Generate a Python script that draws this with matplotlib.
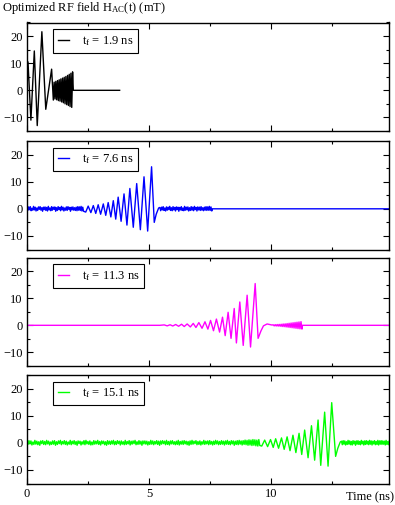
import numpy as np
import matplotlib
matplotlib.use("Agg")
import matplotlib.pyplot as plt
from matplotlib.ticker import MultipleLocator

plt.rcParams['font.family'] = ['Liberation Serif', 'DejaVu Serif']
plt.rcParams['mathtext.fontset'] = 'custom'
plt.rcParams['mathtext.rm'] = 'Liberation Serif'
plt.rcParams['mathtext.it'] = 'Liberation Serif'

# ---------------- data ----------------
labels = [r't$_{\rm f}$ = 1.9 ns', r't$_{\rm f}$ = 7.6 ns',
          r't$_{\rm f}$ = 11.3 ns', r't$_{\rm f}$ = 15.1 ns']
colors = ['black', '#0000ff', '#ff00ff', '#00ff00']
x_ticks = [0, 5, 10]
y_ticks = [-10, 0, 10, 20]

# panel 1 (t_f = 1.9 ns): large initial swings
k_t = [0.0, 0.04, 0.16, 0.30, 0.42, 0.61, 0.77, 1.01]
k_v = [0.0, 10.5, -11.0, 14.5, -13.0, 21.6, -7.0, 7.8]
# fast oscillation 1.08 .. 1.87 ns (extrema)
k_fast = [-3.6, 3.0, -3.2, 3.3, -3.5, 3.6, -3.8, 3.9, -4.0, 4.2, -4.3, 4.5,
          -4.6, 4.8, -5.0, 5.1, -5.3, 5.5, -5.6, 5.9, -6.0, 6.3, -6.3, 6.8]
k_tail_t = [1.90, 3.80]
k_tail_v = [0.0, 0.0]

# panel 2 (t_f = 7.6 ns)
b_noise1 = [4, -6, 7, -3, 8, -7, 2, -5, 9, -4, 6, -8, 3, -6, 7, -2, 8, -5, 4, -9,
            6, -3, 7, -6, 5, -8, 9, -4, 3, -7, 8, -5, 6, -2, 7, -9, 4, -6, 8, -3,
            5, -7, 9, -4, 6, -8, 3, -5, 7, -6, 8, -2, 5, -9, 6, -4, 7, -5, 4, -6,
            6, -7, 8, -5, 7, -6, 9, -8, 6, -9]
b_t = [2.41, 2.51, 2.62, 2.72, 2.82, 2.92, 3.02, 3.13, 3.23, 3.33, 3.44, 3.54,
       3.64, 3.74, 3.86, 3.98, 4.10, 4.22, 4.36, 4.50, 4.65, 4.80, 4.95, 5.11,
       5.22, 5.30, 5.40]
b_v = [-1.2, 1.0, -1.4, 1.2, -1.7, 1.5, -2.0, 1.8, -2.4, 2.3, -3.0, 3.0,
       -3.8, 4.3, -4.6, 5.5, -6.0, 7.5, -6.8, 9.3, -7.7, 11.8, -8.2, 15.5,
       -5.0, -2.0, 0.3]
b_noise2 = [5, -7, 6, -4, 8, -6, 3, -8, 7, -5, 6, -3, 9, -6, 4, -7, 8, -4, 5, -8,
            7, -3, 6, -9, 5, -4, 8, -6, 3, -7, 9, -5, 6, -4, 7, -8, 4, -6, 8, -5,
            6, -7, 9, -3, 5, -8, 7, -4, 6, -6, 8, -5, 4, -7, 6, -5, 8, -6, 7, -5,
            9, -6, 7, -8]
b_tail_t = [7.60, 14.9]
b_tail_v = [0.0, 0.0]

# panel 3 (t_f = 11.3 ns)
m_head_t = [0.0, 5.45]
m_head_v = [0.0, 0.0]
m_t = [5.63, 5.75, 5.87, 5.98, 6.10, 6.22, 6.34, 6.45, 6.57, 6.70, 6.82, 6.93,
       7.05, 7.18, 7.30, 7.42, 7.53, 7.65, 7.77, 7.90, 8.02, 8.13, 8.25, 8.37,
       8.50, 8.59, 8.73, 8.87, 9.03, 9.17, 9.36, 9.48, 9.60, 9.70, 9.85, 9.95,
       10.05]
m_v = [0.15, -0.2, 0.2, -0.25, 0.3, -0.35, 0.4, -0.45, 0.5, -0.6, 0.7, -0.8,
       1.0, -1.1, 1.3, -1.4, 1.8, -2.0, 2.3, -2.5, 3.0, -3.8, 4.8, -4.8,
       6.2, -6.5, 8.6, -7.4, 11.1, -8.0, 15.4, -4.8, -2.0, -0.2, 0.5, 0.3,
       0.1]
# fast ripple 10.1 .. 11.3 ns (extrema)
m_fast = [0.2, -0.2, 0.25, -0.25, 0.3, -0.3, 0.35, -0.35, 0.4, -0.45, 0.5, -0.5,
          0.55, -0.6, 0.65, -0.7, 0.75, -0.8, 0.85, -0.9, 0.95, -1.0, 1.05, -1.1,
          1.15, -1.2, 1.25, -1.3, 1.35, -1.4]
m_tail_t = [11.30, 14.9]
m_tail_v = [0.0, 0.0]

# panel 4 (t_f = 15.1 ns)
g_noise1 = [5, -6, 8, -4, 7, -8, 3, -6, 9, -5, 6, -7, 4, -9, 7, -3, 8, -6, 5, -7,
            9, -4, 6, -8, 3, -6, 7, -5, 8, -9, 4, -6, 7, -3, 9, -7, 5, -4, 8, -6,
            6, -8, 3, -5, 9, -7, 6, -4, 8, -6, 5, -9, 7, -3, 6, -8, 4, -5, 8, -7,
            9, -4, 5, -6, 7, -8, 3, -7, 8, -5, 6, -4, 9, -6, 5, -8, 7, -3, 6, -7,
            4, -9, 8, -5, 6, -6, 7, -4, 9, -7, 5, -6, 8, -3, 6, -8, 7, -5, 4, -7,
            9, -6, 5, -4, 8, -8, 6, -5, 7, -3, 9, -7, 4, -6, 8, -5, 6, -9, 7, -4,
            7, -5, 6, -8, 4, -6, 9, -5, 7, -7, 5, -4, 8, -6, 6, -9, 7, -5, 8, -3,
            6, -7, 9, -6, 5, -8, 7, -4, 8, -5, 4, -7, 6, -6, 9, -8, 5, -5, 7, -6,
            8, -4, 6, -7, 5, -9, 7, -6, 9, -5, 6, -3, 8, -7, 5, -6, 7, -8, 4, -5,
            9, -6, 6, -4, 7, -7, 8, -5, 5, -8, 6, -6, 9, -4, 7, -7, 5, -6, 8, -5,
            6, -8, 7, -5, 9, -6, 5, -7, 8, -4, 7, -9, 6, -6, 8, -7, 9, -5, 7, -8,
            8, -6, 10, -7, 9, -9, 11, -8, 10, -10, 12, -9, 11, -11, 10, -12, 12, -10]
g_t = [9.63, 9.75, 9.87, 9.99, 10.10, 10.20, 10.32, 10.44, 10.55, 10.67, 10.79,
       10.91, 11.03, 11.16, 11.27, 11.39, 11.53, 11.67, 11.80, 11.94, 12.05, 12.21,
       12.35, 12.50, 12.66, 12.75, 12.85]
g_v = [-1.2, 1.0, -1.4, 1.2, -1.7, 1.5, -2.0, 1.8, -2.4, 2.2, -2.9,
       2.8, -3.6, 3.5, -4.3, 4.7, -5.5, 6.3, -6.4, 8.4, -8.3, 11.3,
       -8.6, 14.8, -5.0, -2.0, 0.3]
g_noise2 = [6, -7, 8, -5, 7, -8, 4, -6, 9, -5, 7, -7, 5, -8, 8, -4, 6, -9, 7, -5,
            8, -6, 5, -7, 9, -4, 6, -8, 7, -6, 8, -5, 6, -7, 9, -5, 7, -8, 6, -4,
            8, -7, 5, -6, 9, -8, 7, -5, 8, -6, 7, -5, 6, -8, 9, -6, 5, -7, 8, -6]

# ---------------- build series ----------------
def noise(vals, t0, t1):
    return np.linspace(t0, t1, len(vals)), np.array(vals) / 10.0

series = []
t = np.concatenate([k_t, np.linspace(1.08, 1.87, len(k_fast)), k_tail_t])
v = np.concatenate([k_v, k_fast, k_tail_v])
series.append((t, v))

n1t, n1v = noise(b_noise1, 0.0, 2.32)
n2t, n2v = noise(b_noise2, 5.45, 7.58)
t = np.concatenate([n1t, b_t, n2t, b_tail_t])
v = np.concatenate([n1v, b_v, n2v, b_tail_v])
series.append((t, v))

t = np.concatenate([m_head_t, m_t, np.linspace(10.1, 11.28, len(m_fast)), m_tail_t])
v = np.concatenate([m_head_v, m_v, m_fast, m_tail_v])
series.append((t, v))

n1t, n1v = noise(g_noise1, 0.0, 9.55)
n2t, n2v = noise(g_noise2, 12.9, 14.9)
t = np.concatenate([n1t, g_t, n2t])
v = np.concatenate([n1v, g_v, n2v])
series.append((t, v))

# ---------------- figure ----------------
W, H = 395, 505
fig = plt.figure(figsize=(W / 100, H / 100), dpi=100)
left = 27 / W
width = (389 - 27) / W
ph = 108.5
tops = [22.5, 141, 257.5, 375]

for i, (top, (t, v)) in enumerate(zip(tops, series)):
    ax = fig.add_axes([left, 1 - (top + ph) / H, width, ph / H])
    ax.plot(t, v, color=colors[i], lw=1.0, label=labels[i])
    ax.set_xlim(0, 14.85)
    ax.set_ylim(-15, 25)
    ax.set_xticks(x_ticks)
    ax.set_yticks(y_ticks)
    ax.xaxis.set_minor_locator(MultipleLocator(2.5))
    ax.yaxis.set_minor_locator(MultipleLocator(5))
    ax.tick_params(which='both', direction='in', top=True, right=True,
                   labelsize=9, width=0.8, pad=3)
    ax.tick_params(which='major', length=4.5)
    ax.tick_params(which='minor', length=2.5)
    if i < 3:
        ax.tick_params(labelbottom=False)
    for s in ax.spines.values():
        s.set_linewidth(1.0)
    leg = ax.legend(loc='upper left', bbox_to_anchor=(26 / 362, 1 - 6.5 / ph),
                    borderaxespad=0, fancybox=False, framealpha=1,
                    edgecolor='black', fontsize=9, handlelength=0.9,
                    handletextpad=1.0, borderpad=0.4)
    leg.get_frame().set_linewidth(0.8)

fig.text(2 / W, 1 - 8 / H, r'Optimized RF field H$_{\rm AC}$(t) (mT)',
         fontsize=9, ha='left', va='center')
fig.text(394 / W, 1 - 497 / H, 'Time (ns)', fontsize=9, ha='right', va='center')

fig.savefig('out.png', dpi=100)
